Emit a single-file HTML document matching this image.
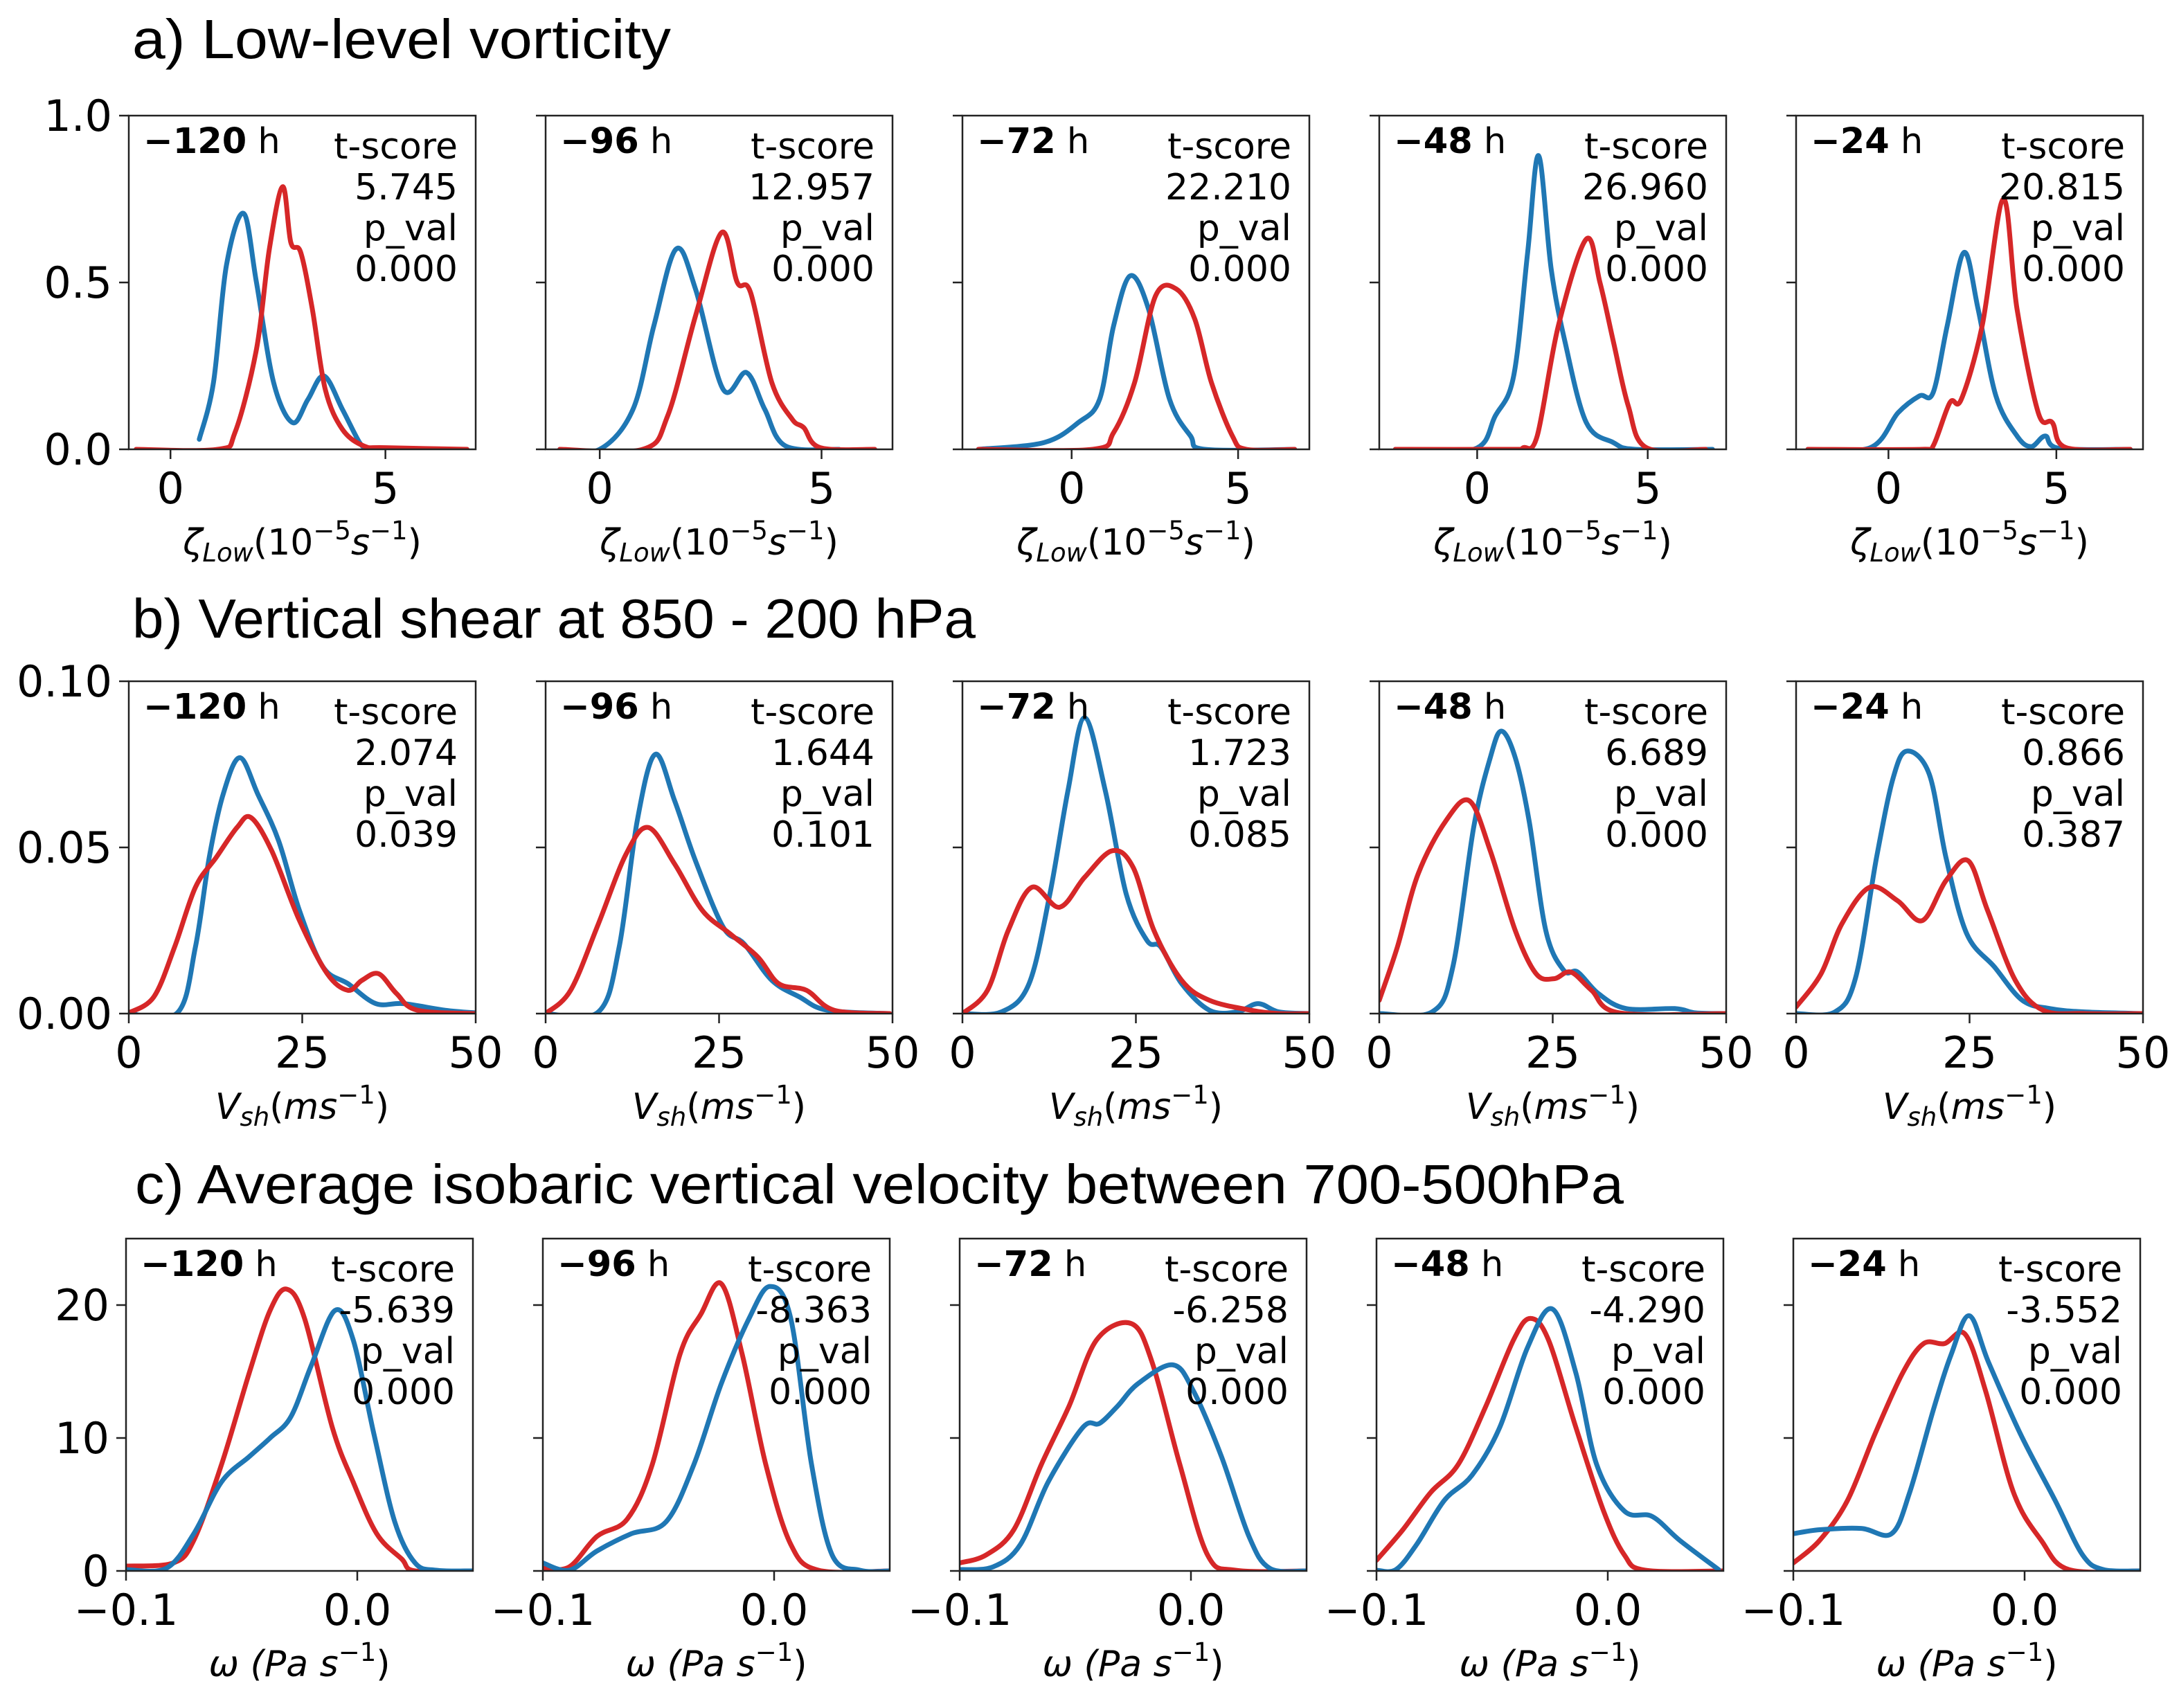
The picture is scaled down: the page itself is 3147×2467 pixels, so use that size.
<!DOCTYPE html>
<html><head><meta charset="utf-8">
<style>
html,body{margin:0;padding:0;background:#fff;}
svg{display:block;}
text{font-family:"DejaVu Sans","Liberation Sans",sans-serif;fill:#000;}
.title{font-family:"Liberation Sans","DejaVu Sans",sans-serif;}
</style></head>
<body>
<svg id="fig" xmlns="http://www.w3.org/2000/svg" width="3147" height="2467" viewBox="0 0 3147 2467">
<rect width="3147" height="2467" fill="#fff"/>
<text class="title" x="191" y="84" font-size="80" textLength="778" lengthAdjust="spacingAndGlyphs">a) Low-level vorticity</text>
<text class="title" x="191" y="921" font-size="80" textLength="1218" lengthAdjust="spacingAndGlyphs">b) Vertical shear at 850 - 200 hPa</text>
<text class="title" x="195" y="1738" font-size="80" textLength="2150" lengthAdjust="spacingAndGlyphs">c) Average isobaric vertical velocity between 700-500hPa</text>
<g id="plots"></g>
</svg>
<script>
// ---------- data ----------
const hours = ["\u2212120", "\u221296", "\u221272", "\u221248", "\u221224"];
const tScoreA = ["5.745", "12.957", "22.210", "26.960", "20.815"];
const pValA = ["0.000", "0.000", "0.000", "0.000", "0.000"];
const tScoreB = ["2.074", "1.644", "1.723", "6.689", "0.866"];
const pValB = ["0.039", "0.101", "0.085", "0.000", "0.387"];
const tScoreC = ["-5.639", "-8.363", "-6.258", "-4.290", "-3.552"];
const pValC = ["0.000", "0.000", "0.000", "0.000", "0.000"];

const xMinA = [-0.97, -1.22, -3.28, -2.87, -2.75];
const xMaxA = [7.1, 6.6, 7.14, 7.3, 7.58];
const xTicksA = [0, 5];
const yTicksA = [0, 0.5, 1.0];
const yTickLabelsA = ["0.0", "0.5", "1.0"];
const xTicksB = [0, 25, 50];
const yTicksB = [0, 0.05, 0.10];
const yTickLabelsB = ["0.00", "0.05", "0.10"];
const xTicksC = [-0.1, 0.0];
const xTickLabelsC = ["\u22120.1", "0.0"];
const yTicksC = [0, 10, 20];
const yTickLabelsC = ["0", "10", "20"];

// Row a: low-level vorticity
const a1BlueX = [0.67, 1.0, 1.3, 1.7, 2.0, 2.4, 2.84, 3.2, 3.57, 4.0, 4.4, 4.6];
const a1BlueY = [0.03, 0.2, 0.55, 0.707, 0.5, 0.2, 0.08, 0.15, 0.22, 0.12, 0.02, 0.0];
const a1RedX = [-0.8, 1.1, 1.5, 2.0, 2.3, 2.61, 2.8, 3.03, 3.3, 3.6, 4.0, 4.5, 5.0, 6.9];
const a1RedY = [0, 0, 0.05, 0.3, 0.6, 0.787, 0.62, 0.59, 0.42, 0.18, 0.06, 0.01, 0.005, 0];
const a2BlueX = [-0.9, 0.0, 0.75, 1.22, 1.72, 2.16, 2.78, 3.31, 3.72, 4.19, 5.4];
const a2BlueY = [0, 0, 0.12, 0.37, 0.60, 0.48, 0.18, 0.23, 0.12, 0.01, 0];
const a2RedX = [-0.9, 0.97, 1.53, 2.16, 2.75, 3.1, 3.4, 3.88, 4.34, 4.6, 4.97, 6.2];
const a2RedY = [0, 0, 0.1, 0.40, 0.65, 0.5, 0.47, 0.2, 0.09, 0.065, 0.005, 0];
const a3BlueX = [-2.8, -0.84, 0.2, 0.84, 1.26, 1.76, 2.31, 2.94, 3.57, 4.0, 6.7];
const a3BlueY = [0, 0.02, 0.08, 0.15, 0.37, 0.52, 0.42, 0.15, 0.04, 0, 0];
const a3RedX = [-2.8, 0.63, 1.26, 1.89, 2.52, 3.15, 3.7, 4.2, 4.83, 5.25, 6.7];
const a3RedY = [0, 0, 0.05, 0.2, 0.46, 0.48, 0.39, 0.2, 0.04, 0, 0];
const a4BlueX = [-2.4, -0.1, 0.53, 1.07, 1.48, 1.80, 2.17, 2.58, 3.2, 4.0, 4.63, 6.9];
const a4BlueY = [0, 0, 0.1, 0.22, 0.59, 0.88, 0.54, 0.32, 0.08, 0.02, 0, 0];
const a4RedX = [-2.4, 1.0, 1.35, 1.76, 2.38, 3.2, 3.6, 4.0, 4.43, 4.96, 6.7];
const a4RedY = [0, 0, 0.005, 0.04, 0.37, 0.63, 0.5, 0.32, 0.13, 0.005, 0];
const a5BlueX = [-2.4, -0.54, 0.29, 0.92, 1.33, 1.75, 2.25, 2.67, 3.2, 3.83, 4.25, 4.67, 5.08, 7.2];
const a5BlueY = [0, 0.005, 0.11, 0.16, 0.17, 0.37, 0.59, 0.42, 0.16, 0.04, 0.008, 0.04, 0.003, 0];
const a5RedX = [-2.4, 1.0, 1.33, 1.83, 2.17, 2.79, 3.42, 3.83, 4.46, 4.88, 5.29, 7.2];
const a5RedY = [0, 0, 0.01, 0.14, 0.15, 0.37, 0.75, 0.42, 0.11, 0.08, 0.005, 0];

// Row b: vertical shear
const b1BlueX = [0, 7, 9.6, 11.6, 13.6, 16, 18.6, 21.6, 24.6, 28, 31.6, 35.6, 39.6, 45.6, 50];
const b1BlueY = [0, 0.0002, 0.02, 0.047, 0.066, 0.077, 0.066, 0.052, 0.031, 0.014, 0.009, 0.003, 0.003, 0.001, 0.0002];
const b1RedX = [0, 3.6, 6.6, 9.6, 12.6, 15.6, 17.6, 20.6, 24.6, 28.6, 31.6, 33.6, 36, 38.6, 41.6, 50];
const b1RedY = [0.0002, 0.005, 0.02, 0.038, 0.047, 0.056, 0.059, 0.049, 0.028, 0.012, 0.007, 0.01, 0.012, 0.006, 0.001, 0];
const b2BlueX = [0, 7.6, 10.6, 13.2, 15.8, 18.6, 21.6, 25.6, 28.6, 32.6, 36.6, 40.6, 49.6];
const b2BlueY = [0, 0.0005, 0.02, 0.058, 0.078, 0.064, 0.046, 0.026, 0.021, 0.01, 0.005, 0.001, 0];
const b2RedX = [0, 3.6, 7.6, 11.6, 14.8, 18.6, 22.6, 26.6, 30.6, 33.6, 37.6, 41.6, 49.6];
const b2RedY = [0, 0.007, 0.027, 0.048, 0.056, 0.045, 0.031, 0.024, 0.017, 0.009, 0.007, 0.001, 0];
const b3BlueX = [0, 5.6, 9.6, 12.6, 15.2, 17.6, 20.6, 23.6, 26.6, 28.6, 31.6, 35.6, 39.6, 42.6, 45.6, 50];
const b3BlueY = [0, 0.0005, 0.009, 0.036, 0.067, 0.089, 0.067, 0.036, 0.022, 0.02, 0.009, 0.001, 0.0005, 0.003, 0.0005, 0];
const b3RedX = [0, 3.6, 6.6, 10, 14, 17.6, 21.6, 24.6, 27.6, 31.6, 35.6, 41.6, 45.6, 50];
const b3RedY = [0, 0.007, 0.025, 0.038, 0.032, 0.041, 0.049, 0.044, 0.025, 0.01, 0.004, 0.001, 0, 0];
const b4BlueX = [0, 7.6, 10.6, 13.6, 16, 17.6, 19.6, 21.6, 24, 26.6, 28.6, 31.6, 35.6, 42.6, 45.6, 50];
const b4BlueY = [0, 0.0005, 0.014, 0.056, 0.077, 0.085, 0.077, 0.058, 0.025, 0.013, 0.0125, 0.006, 0.0015, 0.0015, 0.0002, 0];
const b4RedX = [0, 2.6, 5.6, 9.6, 13, 16, 19.6, 22.6, 25.2, 27.6, 30.6, 34.6, 50];
const b4RedY = [0.004, 0.02, 0.042, 0.058, 0.064, 0.049, 0.025, 0.012, 0.0105, 0.0125, 0.007, 0.0002, 0];
const b5BlueX = [0, 5.6, 8.6, 11.6, 14, 16, 19.2, 21.6, 24.6, 28.6, 32.6, 36.6, 41.6, 50];
const b5BlueY = [0, 0.0005, 0.011, 0.047, 0.071, 0.079, 0.072, 0.047, 0.024, 0.014, 0.004, 0.0015, 0.0005, 0];
const b5RedX = [0, 3.6, 6.6, 10.6, 14.6, 18.2, 21.6, 24.8, 27.6, 31.6, 35.6, 41.6, 50];
const b5RedY = [0.002, 0.012, 0.027, 0.038, 0.034, 0.028, 0.04, 0.046, 0.031, 0.01, 0.001, 0, 0];

// Row c: vertical velocity
const c1RedX = [-0.1, -0.0796, -0.0707, -0.0587, -0.0467, -0.0377, -0.0305, -0.0228, -0.0108, -0.0018, 0.0084, 0.0192, 0.025, 0.05];
const c1RedY = [0.36, 0.6, 2.3, 8, 14.9, 19.6, 21.2, 19, 10.8, 6.7, 2.8, 0.9, 0, 0];
const c1BlueX = [-0.1, -0.0826, -0.0707, -0.0587, -0.0467, -0.0377, -0.0287, -0.0198, -0.0096, -0.0018, 0.0072, 0.0162, 0.025, 0.0341, 0.05];
const c1BlueY = [0.1, 0.2, 2.8, 6.7, 8.6, 10, 11.6, 15.5, 19.6, 17.4, 10.3, 3.7, 0.6, 0.05, 0];
const c2RedX = [-0.1, -0.0886, -0.0766, -0.0635, -0.0527, -0.0407, -0.0317, -0.0228, -0.0138, -0.0036, 0.0072, 0.0192, 0.05];
const c2RedY = [0.2, 0.3, 2.6, 3.9, 8, 16.3, 19.3, 21.6, 16.3, 8, 2, 0.05, 0];
const c2BlueX = [-0.1, -0.0886, -0.0766, -0.0617, -0.0467, -0.0347, -0.0228, -0.0108, -0.0018, 0.0072, 0.0162, 0.0251, 0.0371, 0.05];
const c2BlueY = [0.6, 0.05, 1.5, 2.8, 3.7, 8, 14.1, 19, 21.4, 19, 8, 1.2, 0.05, 0];
const c3RedX = [-0.1, -0.0886, -0.0766, -0.0647, -0.0527, -0.0407, -0.0257, -0.0168, -0.0048, 0.0072, 0.0192, 0.05];
const c3RedY = [0.6, 1.2, 3.1, 8, 12.4, 17.4, 18.6, 15.7, 8, 1.2, 0.05, 0];
const c3BlueX = [-0.1, -0.0856, -0.0737, -0.0617, -0.0467, -0.0395, -0.0317, -0.0228, -0.0078, 0.0012, 0.0132, 0.0251, 0.0341, 0.05];
const c3BlueY = [0.1, 0.3, 2, 6.7, 10.8, 11.1, 12.4, 14.1, 15.5, 13.5, 8.6, 2.6, 0.2, 0];
const c4RedX = [-0.1, -0.0886, -0.0766, -0.0647, -0.0527, -0.0407, -0.0335, -0.0257, -0.0138, -0.0018, 0.0072, 0.0162, 0.05];
const c4RedY = [0.8, 3.1, 5.9, 8, 12.4, 17.4, 19, 17.4, 10.8, 4.5, 1.2, 0.05, 0];
const c4BlueX = [-0.1, -0.0916, -0.0826, -0.0707, -0.0587, -0.0467, -0.0347, -0.0239, -0.0138, -0.0048, 0.0072, 0.0192, 0.0311, 0.0479];
const c4BlueY = [0.05, 0.1, 2, 5.3, 7.2, 10.8, 16.8, 19.7, 14.9, 8, 4.5, 4.1, 2.3, 0.1];
const c5RedX = [-0.1, -0.0886, -0.0766, -0.0647, -0.0527, -0.0437, -0.0347, -0.0257, -0.0168, -0.0048, 0.0072, 0.0192, 0.05];
const c5RedY = [0.6, 2.3, 5.3, 10.3, 14.9, 17.1, 17.1, 17.8, 13.5, 5.9, 2.3, 0.1, 0];
const c5BlueX = [-0.1, -0.0886, -0.0707, -0.0575, -0.0497, -0.0395, -0.0317, -0.0239, -0.0156, -0.0018, 0.0132, 0.0251, 0.0341, 0.05];
const c5BlueY = [2.8, 3.1, 3.2, 2.8, 5.9, 12.1, 16.3, 19.2, 15.7, 10.3, 5.3, 1.2, 0.1, 0];

// ---------- drawing ----------
const NS = "http://www.w3.org/2000/svg";
const root = document.getElementById("plots");
const BLUE = "#1f77b4", RED = "#d62728";
const PANEL_LEFT = [186, 788, 1390, 1992, 2594];
const PANEL_W = 501;

function mk(tag, attrs, parent) {
  const e = document.createElementNS(NS, tag);
  for (const k in attrs) e.setAttribute(k, attrs[k]);
  (parent || root).appendChild(e);
  return e;
}
function smoothPath(pts) {
  if (pts.length < 2) return "";
  let d = "M" + pts[0][0].toFixed(1) + "," + pts[0][1].toFixed(1);
  for (let i = 0; i < pts.length - 1; i++) {
    const p0 = pts[Math.max(0, i - 1)], p1 = pts[i], p2 = pts[i + 1], p3 = pts[Math.min(pts.length - 1, i + 2)];
    const c1x = p1[0] + (p2[0] - p0[0]) / 6, c1y = p1[1] + (p2[1] - p0[1]) / 6;
    const c2x = p2[0] - (p3[0] - p1[0]) / 6, c2y = p2[1] - (p3[1] - p1[1]) / 6;
    d += "C" + c1x.toFixed(1) + "," + c1y.toFixed(1) + " " + c2x.toFixed(1) + "," + c2y.toFixed(1) + " " + p2[0].toFixed(1) + "," + p2[1].toFixed(1);
  }
  return d;
}

function drawRow(cfg) {
  for (let i = 0; i < 5; i++) {
    const L = PANEL_LEFT[i] + cfg.dx, R = L + PANEL_W, T = cfg.top, B = cfg.bottom;
    const x0 = cfg.xMin[i], x1 = cfg.xMax[i];
    const sx = v => L + (v - x0) / (x1 - x0) * (R - L);
    const sy = v => B - (v - cfg.yMin) / (cfg.yMax - cfg.yMin) * (B - T);
    const g = mk("g", {});
    
    
    const clipId = "clip-" + cfg.id + i;
    const cp = mk("clipPath", { id: clipId }, g);
    mk("rect", { x: L, y: T, width: R - L, height: B - T }, cp);
    const series = [[cfg.blueX[i], cfg.blueY[i], BLUE, 'blue'], [cfg.redX[i], cfg.redY[i], RED, 'red']];
    if (cfg.redFirst) series.reverse();
    for (const s of series) {
      const pts = s[0].map((xv, k) => [sx(xv), sy(s[1][k])]);
      const p = mk("path", { d: smoothPath(pts), fill: "none", stroke: s[2], "stroke-width": 7, "stroke-linejoin": "round", "stroke-linecap": "round", "clip-path": "url(#" + clipId + ")" }, g);
      
      
    }
    const fr = mk("rect", { x: L, y: T, width: R - L, height: B - T, fill: "none", stroke: "#222", "stroke-width": 2.5 }, g);
    
    
    cfg.xTicks.forEach((tv, k) => {
      const x = sx(tv);
      const tk = mk("line", { x1: x, y1: B, x2: x, y2: B + 14, stroke: "#222", "stroke-width": 2.5 }, g);
      
      
      const tl = mk("text", { x: x, y: B + 78, "font-size": 62, "text-anchor": "middle" }, g);
      tl.textContent = cfg.xTickLabels ? cfg.xTickLabels[k] : String(tv);
      
      
    });
    cfg.yTicks.forEach((tv, k) => {
      const y = sy(tv);
      const tk = mk("line", { x1: L - 14, y1: y, x2: L, y2: y, stroke: "#222", "stroke-width": 2.5 }, g);
      
      
      if (i === 0) {
        const tl = mk("text", { x: L - 24, y: y + 22, "font-size": 62, "text-anchor": "end" }, g);
        tl.textContent = cfg.yTickLabels[k];
        
        
      }
    });
    const ht = mk("text", { x: L + 21, y: T + 54, "font-size": 51 }, g);
    
    
    const hb = mk("tspan", { "font-weight": "bold" }, ht); hb.textContent = hours[i];
    const hh = mk("tspan", {}, ht); hh.textContent = " h";
    const lines = ["t-score", cfg.tScore[i], "p_val", cfg.pVal[i]];
    lines.forEach((s, k) => {
      const st = mk("text", { x: R - 26, y: T + 62 + k * 59, "font-size": 52, "text-anchor": "end" }, g);
      st.textContent = s;
      
      
    });
    const xl = mk("text", { x: (L + R) / 2, y: B + 152, "font-size": 52, "text-anchor": "middle" }, g);
    
    
    cfg.label(xl);
  }
}
function ts(parent, txt, attrs) { const t = mk("tspan", attrs || {}, parent); t.textContent = txt; return t; }

drawRow({
  id: "a", dx: 0, top: 167, bottom: 649, yMin: 0, yMax: 1,
  xMin: xMinA, xMax: xMaxA, xTicks: xTicksA, yTicks: yTicksA, yTickLabels: yTickLabelsA,
  blueX: [a1BlueX, a2BlueX, a3BlueX, a4BlueX, a5BlueX], blueY: [a1BlueY, a2BlueY, a3BlueY, a4BlueY, a5BlueY],
  redX: [a1RedX, a2RedX, a3RedX, a4RedX, a5RedX], redY: [a1RedY, a2RedY, a3RedY, a4RedY, a5RedY],
  tScore: tScoreA, pVal: pValA,
  label: t => {
    ts(t, "\u03B6", { "font-style": "italic" });
    ts(t, "Low", { "font-style": "italic", "font-size": 37, dy: 10 });
    ts(t, "(10", { dy: -10 });
    ts(t, "\u22125", { "font-size": 37, dy: -22 });
    ts(t, "s", { "font-style": "italic", dy: 22 });
    ts(t, "\u22121", { "font-size": 37, dy: -22 });
    ts(t, ")", { dy: 22 });
  }
});
drawRow({
  id: "b", dx: 0, top: 984, bottom: 1464, yMin: 0, yMax: 0.1,
  xMin: [0, 0, 0, 0, 0], xMax: [50, 50, 50, 50, 50], xTicks: xTicksB, yTicks: yTicksB, yTickLabels: yTickLabelsB,
  blueX: [b1BlueX, b2BlueX, b3BlueX, b4BlueX, b5BlueX], blueY: [b1BlueY, b2BlueY, b3BlueY, b4BlueY, b5BlueY],
  redX: [b1RedX, b2RedX, b3RedX, b4RedX, b5RedX], redY: [b1RedY, b2RedY, b3RedY, b4RedY, b5RedY],
  tScore: tScoreB, pVal: pValB,
  label: t => {
    ts(t, "V", { "font-style": "italic" });
    ts(t, "sh", { "font-style": "italic", "font-size": 37, dy: 10 });
    ts(t, "(", { dy: -10 });
    ts(t, "ms", { "font-style": "italic" });
    ts(t, "\u22121", { "font-size": 37, dy: -22 });
    ts(t, ")", { dy: 22 });
  }
});
drawRow({
  id: "c", dx: -4, top: 1789, bottom: 2269, yMin: 0, yMax: 25,
  xMin: [-0.1, -0.1, -0.1, -0.1, -0.1], xMax: [0.05, 0.05, 0.05, 0.05, 0.05], xTicks: xTicksC, xTickLabels: xTickLabelsC,
  yTicks: yTicksC, yTickLabels: yTickLabelsC,
  blueX: [c1BlueX, c2BlueX, c3BlueX, c4BlueX, c5BlueX], blueY: [c1BlueY, c2BlueY, c3BlueY, c4BlueY, c5BlueY],
  redX: [c1RedX, c2RedX, c3RedX, c4RedX, c5RedX], redY: [c1RedY, c2RedY, c3RedY, c4RedY, c5RedY],
  tScore: tScoreC, pVal: pValC, redFirst: true,
  label: t => {
    ts(t, "\u03C9 (", { "font-style": "italic" });
    ts(t, "Pa s", { "font-style": "italic" });
    ts(t, "\u22121", { "font-size": 37, dy: -22 });
    ts(t, ")", { dy: 22 });
  }
});
</script>
</body></html>
